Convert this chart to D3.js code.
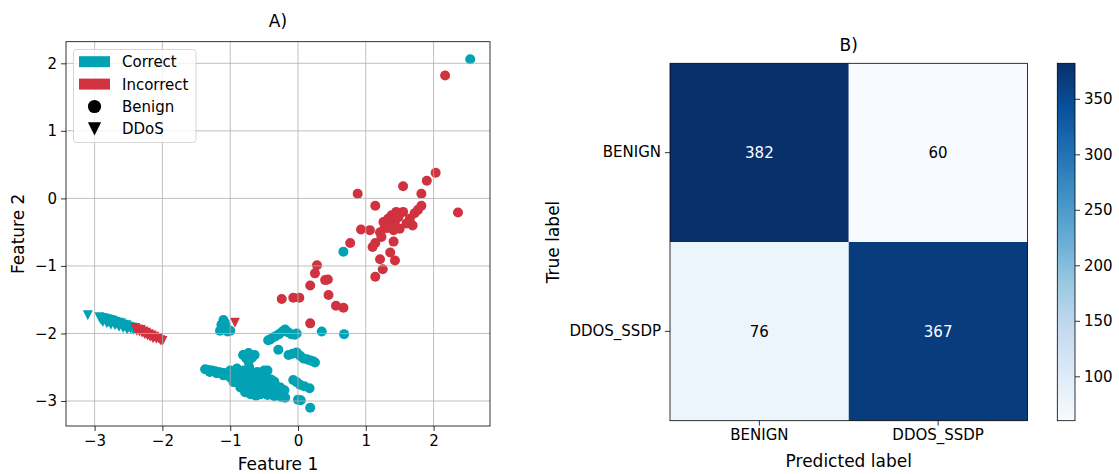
<!DOCTYPE html>
<html>
<head>
<meta charset="utf-8">
<script src="https://cdn.jsdelivr.net/npm/d3@7"></script>
<style>
  body { margin: 0; background: #fff; }
  text { font-family: "DejaVu Sans", sans-serif; fill: #000; }
</style>
</head>
<body>
<svg id="fig" width="1119" height="474"></svg>
<script>
// ---------- Panel A: 2-D feature projection ----------
// Benign flows, classified correctly
const benignCorrect = [
  [2.54, 2.06], [0.67, -0.79], [0.35, -1.97], [0.68, -2.01],
  // small group near x = -1
  [-1.10, -1.80], [-1.13, -1.87], [-1.15, -1.96], [-1.00, -1.96], [-1.06, -1.90], [-1.08, -1.84], [-1.04, -1.97],
  // group around (-0.2, -2.0)
  [-0.41, -2.09], [-0.37, -2.06], [-0.33, -2.04], [-0.28, -2.01], [-0.23, -1.97], [-0.19, -1.94],
  [-0.15, -1.98], [-0.10, -2.01], [-0.05, -2.02], [-0.02, -2.00], [-0.44, -2.10],
  [-0.29, -2.24],
  [-0.14, -2.32], [-0.08, -2.30], [-0.02, -2.28], [0.03, -2.33], [0.08, -2.37], [0.13, -2.38],
  [0.18, -2.40], [0.22, -2.41], [0.25, -2.43],
  [-0.07, -2.69], [-0.02, -2.72], [0.03, -2.76], [0.09, -2.78], [0.17, -2.81],
  [0.00, -2.98], [0.04, -2.99], [0.18, -3.10],
  // elongated arm on the left of the main group
  [-1.37, -2.53], [-1.32, -2.54], [-1.27, -2.55], [-1.22, -2.56], [-1.17, -2.57], [-1.12, -2.58],
  [-1.07, -2.59], [-1.02, -2.60], [-1.30, -2.57], [-1.20, -2.59], [-1.10, -2.62],
  // upper bump
  [-0.81, -2.32], [-0.73, -2.29], [-0.64, -2.32], [-0.73, -2.42], [-0.72, -2.50], [-0.77, -2.36], [-0.68, -2.36],
  // main body
  [-1.00, -2.55], [-0.90, -2.52], [-0.80, -2.55], [-0.70, -2.56], [-0.60, -2.57], [-0.50, -2.55], [-0.45, -2.55],
  [-0.95, -2.58], [-0.85, -2.58], [-0.75, -2.59], [-0.65, -2.60], [-0.55, -2.60],
  [-1.00, -2.65], [-0.92, -2.63], [-0.85, -2.64], [-0.78, -2.63], [-0.70, -2.65], [-0.62, -2.64],
  [-0.55, -2.66], [-0.48, -2.65], [-0.40, -2.68], [-0.35, -2.71],
  [-0.95, -2.72], [-0.88, -2.73], [-0.80, -2.72], [-0.72, -2.74], [-0.64, -2.73], [-0.56, -2.75],
  [-0.48, -2.76], [-0.40, -2.77], [-0.32, -2.78], [-0.26, -2.80],
  [-0.85, -2.80], [-0.75, -2.82], [-0.68, -2.85], [-0.60, -2.83], [-0.52, -2.85], [-0.44, -2.86],
  [-0.36, -2.88], [-0.28, -2.88], [-0.22, -2.90], [-0.20, -2.84],
  [-0.70, -2.90], [-0.55, -2.90], [-0.45, -2.91], [-0.35, -2.93], [-0.25, -2.94], [-0.19, -2.95],
  [-0.62, -2.92], [-0.78, -2.87]
];

// Benign flows, misclassified
const benignIncorrect = [
  [2.17, 1.82], [0.88, 0.07], [1.55, 0.18], [1.90, 0.26], [2.03, 0.38], [1.82, 0.07],
  [1.14, -0.11], [1.82, -0.11], [1.77, -0.17], [1.55, -0.20], [1.33, -0.30], [1.43, -0.35],
  [1.26, -0.35], [1.69, -0.40], [1.60, -0.37], [1.41, -0.47], [1.31, -0.44], [0.93, -0.46],
  [1.06, -0.47], [1.21, -0.50], [1.23, -0.57], [1.14, -0.66], [1.41, -0.64], [1.10, -0.72],
  [0.77, -0.66], [1.36, -0.80], [1.21, -0.90], [1.43, -0.92], [1.25, -1.05], [1.14, -1.16],
  [2.36, -0.21], [1.38, -0.25], [1.48, -0.28], [1.36, -0.40], [1.50, -0.45], [1.65, -0.30],
  [1.72, -0.22], [1.28, -0.42], [1.45, -0.20],
  [0.28, -0.99], [0.25, -1.11], [0.40, -1.21], [0.44, -1.20], [0.18, -1.29], [0.45, -1.43],
  [0.56, -1.59], [0.67, -1.62], [-0.07, -1.47], [0.02, -1.47], [-0.24, -1.49], [0.18, -1.85]
];

// DDoS flows, classified correctly
const ddosCorrect = [
  [-3.10, -1.73],
  [-2.93, -1.76], [-2.91, -1.79], [-2.89, -1.77], [-2.87, -1.81], [-2.85, -1.78], [-2.83, -1.82],
  [-2.81, -1.79], [-2.79, -1.83], [-2.77, -1.80], [-2.75, -1.84], [-2.73, -1.81], [-2.71, -1.85],
  [-2.69, -1.83], [-2.67, -1.86], [-2.65, -1.84], [-2.63, -1.88], [-2.61, -1.85], [-2.59, -1.89],
  [-2.57, -1.87], [-2.55, -1.90], [-2.53, -1.88], [-2.51, -1.92], [-2.49, -1.90], [-2.47, -1.93],
  [-2.45, -1.91], [-2.43, -1.95], [-2.41, -1.93],
  [-2.88, -1.83], [-2.82, -1.85], [-2.76, -1.87], [-2.70, -1.88], [-2.64, -1.90], [-2.58, -1.92],
  [-2.52, -1.94]
];

// DDoS flows, misclassified
const ddosIncorrect = [
  [-2.40, -1.92], [-2.38, -1.96], [-2.36, -1.94], [-2.34, -1.97], [-2.32, -1.95], [-2.30, -1.99],
  [-2.28, -1.97], [-2.26, -2.01], [-2.24, -1.99], [-2.22, -2.03], [-2.20, -2.01], [-2.18, -2.05],
  [-2.16, -2.03], [-2.14, -2.07], [-2.12, -2.05], [-2.09, -2.08], [-2.06, -2.07], [-2.03, -2.10],
  [-2.00, -2.11], [-0.93, -1.84]
];

const xTicksA = [-3, -2, -1, 0, 1, 2];
const yTicksA = [-3, -2, -1, 0, 1, 2];

// ---------- Panel B: confusion matrix ----------
const classLabels = ["BENIGN", "DDOS_SSDP"];
const confusion = [
  [382, 60],
  [76, 367]
];
const colorbarTicks = [100, 150, 200, 250, 300, 350];

const colorCorrect = "#00a2b3";
const colorIncorrect = "#d1323f";

const svg = d3.select("#fig");
const fmt = d => (d < 0 ? "\u2212" + Math.abs(d) : String(d));

// ===== Panel A =====
const A = { left: 66, right: 490, top: 41.7, bottom: 426 };
const x = d3.scaleLinear().domain([-3.422, 2.832]).range([A.left, A.right]);
const y = d3.scaleLinear().domain([-3.37, 2.32]).range([A.bottom, A.top]);

const gA = svg.append("g");

gA.append("defs").append("clipPath").attr("id", "clipA")
  .append("rect").attr("x", A.left).attr("y", A.top)
  .attr("width", A.right - A.left).attr("height", A.bottom - A.top);

const plotA = gA.append("g").attr("clip-path", "url(#clipA)");

function drawCircles(data, color) {
  plotA.selectAll(null).data(data).enter().append("circle")
    .attr("cx", d => x(d[0])).attr("cy", d => y(d[1]))
    .attr("r", 5).attr("fill", color);
}
function drawTriangles(data, color) {
  const s = 5;
  plotA.selectAll(null).data(data).enter().append("path")
    .attr("d", d => {
      const cx = x(d[0]), cy = y(d[1]);
      return `M${cx - s},${cy - s}L${cx + s},${cy - s}L${cx},${cy + s}Z`;
    })
    .attr("fill", color);
}

drawCircles(benignCorrect, colorCorrect);
drawTriangles(ddosCorrect, colorCorrect);
drawCircles(benignIncorrect, colorIncorrect);
drawTriangles(ddosIncorrect, colorIncorrect);

// grid sits above the scatter
const grid = gA.append("g").attr("stroke", "#b0b0b0").attr("stroke-width", 0.8);
grid.selectAll(null).data(xTicksA).enter().append("line")
  .attr("x1", d => x(d)).attr("x2", d => x(d)).attr("y1", A.top).attr("y2", A.bottom);
grid.selectAll(null).data(yTicksA).enter().append("line")
  .attr("y1", d => y(d)).attr("y2", d => y(d)).attr("x1", A.left).attr("x2", A.right);

// axes
const xAxisA = gA.append("g").attr("transform", `translate(0,${A.bottom})`)
  .call(d3.axisBottom(x).tickValues(xTicksA).tickFormat(fmt).tickSize(5).tickPadding(4));
const yAxisA = gA.append("g").attr("transform", `translate(${A.left},0)`)
  .call(d3.axisLeft(y).tickValues(yTicksA).tickFormat(fmt).tickSize(5).tickPadding(4));
[xAxisA, yAxisA].forEach(g => {
  g.select(".domain").remove();
  g.selectAll("line").attr("stroke", "#000").attr("stroke-width", 0.8);
  g.selectAll("text").attr("font-size", 15).attr("font-family", "DejaVu Sans").attr("fill", "#000");
});
gA.append("rect").attr("x", A.left).attr("y", A.top)
  .attr("width", A.right - A.left).attr("height", A.bottom - A.top)
  .attr("fill", "none").attr("stroke", "#000").attr("stroke-width", 0.8);

gA.append("text").attr("x", (A.left + A.right) / 2).attr("y", 27)
  .attr("text-anchor", "middle").attr("font-size", 17).text("A)");
gA.append("text").attr("x", (A.left + A.right) / 2).attr("y", 470)
  .attr("text-anchor", "middle").attr("font-size", 17).text("Feature 1");
gA.append("text").attr("transform", `translate(24,${(A.top + A.bottom) / 2}) rotate(-90)`)
  .attr("text-anchor", "middle").attr("font-size", 17).text("Feature 2");

// legend
const leg = gA.append("g");
leg.append("rect").attr("x", 73.5).attr("y", 49.5).attr("width", 122.5).attr("height", 93)
  .attr("rx", 3).attr("fill", "#fff").attr("fill-opacity", 0.8)
  .attr("stroke", "#cccccc").attr("stroke-width", 0.8);
const legendItems = [
  { label: "Correct", kind: "patch", color: colorCorrect },
  { label: "Incorrect", kind: "patch", color: colorIncorrect },
  { label: "Benign", kind: "circle", color: "#000" },
  { label: "DDoS", kind: "triangle", color: "#000" }
];
legendItems.forEach((it, i) => {
  const cy = 61.7 + i * 22.4;
  if (it.kind === "patch") {
    leg.append("rect").attr("x", 79).attr("y", cy - 5.5).attr("width", 31).attr("height", 11).attr("fill", it.color);
  } else if (it.kind === "circle") {
    leg.append("circle").attr("cx", 94.5).attr("cy", cy).attr("r", 6.6).attr("fill", it.color);
  } else {
    const s = 6.6;
    leg.append("path").attr("d", `M${94.5 - s},${cy - s}L${94.5 + s},${cy - s}L${94.5},${cy + s}Z`).attr("fill", it.color);
  }
  leg.append("text").attr("x", 122).attr("y", cy).attr("dy", "0.36em")
    .attr("font-size", 15).text(it.label);
});

// ===== Panel B =====
const B = { left: 670, right: 1027.5, top: 63.3, bottom: 420.7 };
const bx = d3.scaleBand().domain(classLabels).range([B.left, B.right]);
const by = d3.scaleBand().domain(classLabels).range([B.top, B.bottom]);
const vmin = d3.min(confusion.flat()), vmax = d3.max(confusion.flat());
const blues = ["#f7fbff", "#deebf7", "#c6dbef", "#9ecae1", "#6baed6", "#4292c6", "#2171b5", "#08519c", "#08306b"];
const color = d3.scaleLinear()
  .domain(blues.map((_, i) => vmin + (vmax - vmin) * i / (blues.length - 1)))
  .range(blues).interpolate(d3.interpolateRgb);

const cells = [];
confusion.forEach((row, i) => row.forEach((v, j) => cells.push({ t: classLabels[i], p: classLabels[j], v })));

const gB = svg.append("g");
gB.selectAll(null).data(cells).enter().append("rect")
  .attr("x", d => bx(d.p)).attr("y", d => by(d.t))
  .attr("width", bx.bandwidth()).attr("height", by.bandwidth())
  .attr("fill", d => color(d.v));
gB.selectAll(null).data(cells).enter().append("text")
  .attr("x", d => bx(d.p) + bx.bandwidth() / 2).attr("y", d => by(d.t) + by.bandwidth() / 2)
  .attr("dy", "0.36em").attr("text-anchor", "middle").attr("font-size", 15)
  .style("fill", d => (d.v > vmax / 2 ? "#fff" : "#000"))
  .text(d => d.v);

const xAxisB = gB.append("g").attr("transform", `translate(0,${B.bottom})`)
  .call(d3.axisBottom(bx).tickSize(5).tickPadding(4));
const yAxisB = gB.append("g").attr("transform", `translate(${B.left},0)`)
  .call(d3.axisLeft(by).tickSize(5).tickPadding(4));
[xAxisB, yAxisB].forEach(g => {
  g.select(".domain").remove();
  g.selectAll("line").attr("stroke", "#000").attr("stroke-width", 0.8);
  g.selectAll("text").attr("font-size", 15).attr("font-family", "DejaVu Sans").attr("fill", "#000");
});
gB.append("rect").attr("x", B.left).attr("y", B.top)
  .attr("width", B.right - B.left).attr("height", B.bottom - B.top)
  .attr("fill", "none").attr("stroke", "#000").attr("stroke-width", 0.8);

gB.append("text").attr("x", (B.left + B.right) / 2).attr("y", 51)
  .attr("text-anchor", "middle").attr("font-size", 17).text("B)");
gB.append("text").attr("x", (B.left + B.right) / 2).attr("y", 467)
  .attr("text-anchor", "middle").attr("font-size", 17).text("Predicted label");
gB.append("text").attr("transform", `translate(559,${(B.top + B.bottom) / 2}) rotate(-90)`)
  .attr("text-anchor", "middle").attr("font-size", 17).text("True label");

// colorbar
const CB = { left: 1057.3, right: 1075, top: 63.3, bottom: 420.7 };
const cbScale = d3.scaleLinear().domain([vmin, vmax]).range([CB.bottom, CB.top]);
const grad = svg.append("defs").append("linearGradient").attr("id", "cbGrad")
  .attr("x1", 0).attr("y1", 1).attr("x2", 0).attr("y2", 0);
blues.forEach((c, i) => grad.append("stop").attr("offset", i / (blues.length - 1)).attr("stop-color", c));
gB.append("rect").attr("x", CB.left).attr("y", CB.top)
  .attr("width", CB.right - CB.left).attr("height", CB.bottom - CB.top)
  .attr("fill", "url(#cbGrad)").attr("stroke", "#000").attr("stroke-width", 0.8);
const cbAxis = gB.append("g").attr("transform", `translate(${CB.right},0)`)
  .call(d3.axisRight(cbScale).tickValues(colorbarTicks).tickSize(5).tickPadding(4));
cbAxis.select(".domain").remove();
cbAxis.selectAll("line").attr("stroke", "#000").attr("stroke-width", 0.8);
cbAxis.selectAll("text").attr("font-size", 15).attr("font-family", "DejaVu Sans").attr("fill", "#000");
</script>
</body>
</html>
